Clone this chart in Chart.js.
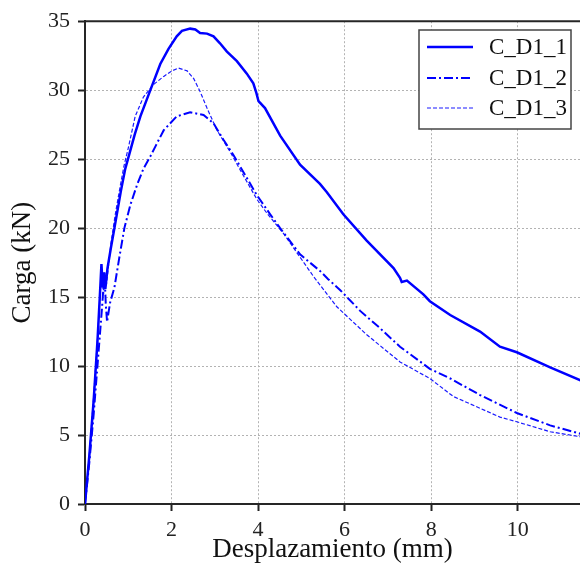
<!DOCTYPE html>
<html>
<head>
<meta charset="utf-8">
<script src="https://cdn.jsdelivr.net/npm/chart.js@4"></script>
<style>
  html, body { margin: 0; padding: 0; background: #fff; }
  #wrap { width: 580px; height: 567px; }
</style>
</head>
<body>
<div id="wrap"><canvas id="cargaChart" width="580" height="567"></canvas></div>
<script>
// data (mm, kN)
const desp1 = [0, 0.1, 0.2, 0.29, 0.35, 0.38, 0.41, 0.44, 0.47, 0.52, 0.6, 0.68, 0.83, 0.93, 1.01, 1.15, 1.28, 1.51, 1.74, 1.93, 2.12, 2.24, 2.43, 2.55, 2.66, 2.82, 2.97, 3.12, 3.28, 3.51, 3.74, 3.89, 3.96, 4.01, 4.16, 4.51, 4.97, 5.43, 5.59, 5.97, 6.51, 7.13, 7.28, 7.32, 7.44, 7.82, 7.97, 8.44, 9.13, 9.59, 9.98, 10.75, 11.5];
const carga1 = [0, 3.5, 7.5, 11.9, 15.5, 17.4, 15.7, 16.8, 15.6, 17.1, 18.6, 20.0, 22.7, 24.3, 25.2, 26.8, 28.1, 30.0, 31.9, 33.0, 33.9, 34.3, 34.46, 34.4, 34.15, 34.1, 33.9, 33.4, 32.8, 32.1, 31.2, 30.5, 29.8, 29.2, 28.7, 26.7, 24.6, 23.2, 22.6, 21.0, 19.1, 17.1, 16.4, 16.1, 16.2, 15.2, 14.7, 13.7, 12.5, 11.4, 11.0, 9.9, 8.9];

const desp2 = [0, 0.1, 0.2, 0.3, 0.4, 0.45, 0.48, 0.51, 0.58, 0.68, 0.8, 0.91, 1.05, 1.21, 1.35, 1.51, 1.64, 1.82, 2.12, 2.43, 2.74, 2.97, 3.2, 3.43, 3.97, 4.28, 4.51, 4.97, 5.43, 5.62, 5.9, 6.36, 6.8, 7.28, 7.97, 8.44, 9.13, 9.98, 10.75, 11.5];
const carga2 = [0, 3, 6.5, 10.5, 14.5, 16.8, 14.5, 13.2, 14.6, 15.7, 18.0, 20.0, 21.7, 23.2, 24.3, 25.2, 26.0, 27.1, 28.1, 28.4, 28.2, 27.6, 26.4, 25.3, 22.4, 21.0, 20.0, 18.1, 16.9, 16.3, 15.5, 14.0, 12.8, 11.4, 9.8, 9.1, 7.9, 6.6, 5.7, 5.05];

const desp3 = [0, 0.1, 0.2, 0.3, 0.37, 0.4, 0.43, 0.46, 0.5, 0.6, 0.7, 0.8, 0.9, 1.0, 1.16, 1.35, 1.58, 1.82, 2.01, 2.16, 2.36, 2.51, 2.66, 2.82, 3.05, 3.36, 3.59, 3.97, 4.2, 4.59, 5.28, 5.82, 6.5, 7.28, 7.97, 8.51, 9.59, 9.98, 10.75, 11.5];
const carga3 = [0, 3.6, 7.8, 12.5, 16.2, 17.0, 15.2, 16.5, 16.0, 18.9, 21.0, 22.8, 24.5, 25.8, 28.1, 29.5, 30.4, 31.0, 31.4, 31.6, 31.4, 30.85, 29.9, 28.7, 27.1, 25.5, 24.2, 22.1, 21.1, 19.6, 16.5, 14.3, 12.3, 10.3, 9.1, 7.8, 6.3, 5.96, 5.24, 4.85];

const seriesNames = ['C_D1_1', 'C_D1_2', 'C_D1_3'];
const xTicks = [0, 2, 4, 6, 8, 10];
const yTicks = [0, 5, 10, 15, 20, 25, 30, 35];

const serif = "'Liberation Serif', 'DejaVu Serif', serif";

function toPoints(xs, ys) {
    return xs.map((x, i) => ({ x: x, y: ys[i] }));
}

// top frame line + legend box inside the plot
const frameAndLegend = {
    id: 'frameAndLegend',
    afterDatasetsDraw(chart) {
        const ctx = chart.ctx;
        const area = chart.chartArea;
        ctx.save();
        ctx.strokeStyle = '#262626';
        ctx.lineWidth = 2;
        ctx.beginPath();
        ctx.moveTo(area.left - 1, area.top);
        ctx.lineTo(area.right, area.top);
        ctx.stroke();

        // legend
        const bx = 419, by = 30, bw = 152, bh = 99;
        ctx.fillStyle = '#fff';
        ctx.fillRect(bx, by, bw, bh);
        ctx.strokeStyle = '#444';
        ctx.lineWidth = 1.5;
        ctx.strokeRect(bx, by, bw, bh);
        const rows = [47, 78, 108];
        chart.data.datasets.forEach((ds, i) => {
            ctx.strokeStyle = ds.borderColor;
            ctx.lineWidth = ds.borderWidth;
            ctx.setLineDash(ds.borderDash || []);
            ctx.beginPath();
            ctx.moveTo(427, rows[i]);
            ctx.lineTo(473, rows[i]);
            ctx.stroke();
            ctx.setLineDash([]);
            ctx.fillStyle = '#111';
            ctx.font = '23px ' + serif;
            ctx.textBaseline = 'middle';
            ctx.fillText(ds.label, 489, rows[i] + 1);
        });
        ctx.restore();
    }
};

const ctx = document.getElementById('cargaChart').getContext('2d');
const cargaChart = new Chart(ctx, {
    type: 'line',
    data: {
        datasets: [
            {
                label: seriesNames[0],
                data: toPoints(desp1, carga1),
                borderColor: '#0000ff',
                borderWidth: 2.5,
                pointRadius: 0,
                fill: false
            },
            {
                label: seriesNames[1],
                data: toPoints(desp2, carga2),
                borderColor: '#0000ff',
                borderWidth: 2,
                borderDash: [9, 3, 2, 3],
                pointRadius: 0,
                fill: false
            },
            {
                label: seriesNames[2],
                data: toPoints(desp3, carga3),
                borderColor: '#1a1aff',
                borderWidth: 1.2,
                borderDash: [4, 2],
                pointRadius: 0,
                fill: false
            }
        ]
    },
    plugins: [frameAndLegend],
    options: {
        responsive: false,
        animation: false,
        layout: { padding: { top: 19, right: 0, left: 0, bottom: 0 } },
        plugins: {
            legend: { display: false },
            tooltip: { enabled: false }
        },
        scales: {
            x: {
                type: 'linear',
                min: 0,
                max: 11.44,
                afterBuildTicks: scale => { scale.ticks = xTicks.map(v => ({ value: v })); },
                afterFit: scale => { scale.height = 63; },
                ticks: {
                    color: '#222',
                    font: { family: serif, size: 22 },
                    padding: 6,
                    maxRotation: 0
                },
                grid: {
                    color: '#b3b3b3',
                    lineWidth: 1,
                    tickLength: 7,
                    tickColor: '#222',
                    tickWidth: 2
                },
                border: { display: true, color: '#262626', width: 2, dash: [2, 2] },
                title: {
                    display: true,
                    text: 'Desplazamiento (mm)',
                    color: '#111',
                    font: { family: serif, size: 27 },
                    padding: { top: 0, bottom: 1 }
                }
            },
            y: {
                min: 0,
                max: 35,
                afterBuildTicks: scale => { scale.ticks = yTicks.map(v => ({ value: v })); },
                afterFit: scale => { scale.width = 85; },
                ticks: {
                    color: '#222',
                    font: { family: serif, size: 22 },
                    padding: 8
                },
                grid: {
                    color: '#b3b3b3',
                    lineWidth: 1,
                    tickLength: 7,
                    tickColor: '#222',
                    tickWidth: 2
                },
                border: { display: true, color: '#262626', width: 2, dash: [2, 2] },
                title: {
                    display: true,
                    text: 'Carga (kN)',
                    color: '#111',
                    font: { family: serif, size: 27 },
                    padding: { top: 7, bottom: 6 }
                }
            }
        }
    }
});
</script>
</body>
</html>
